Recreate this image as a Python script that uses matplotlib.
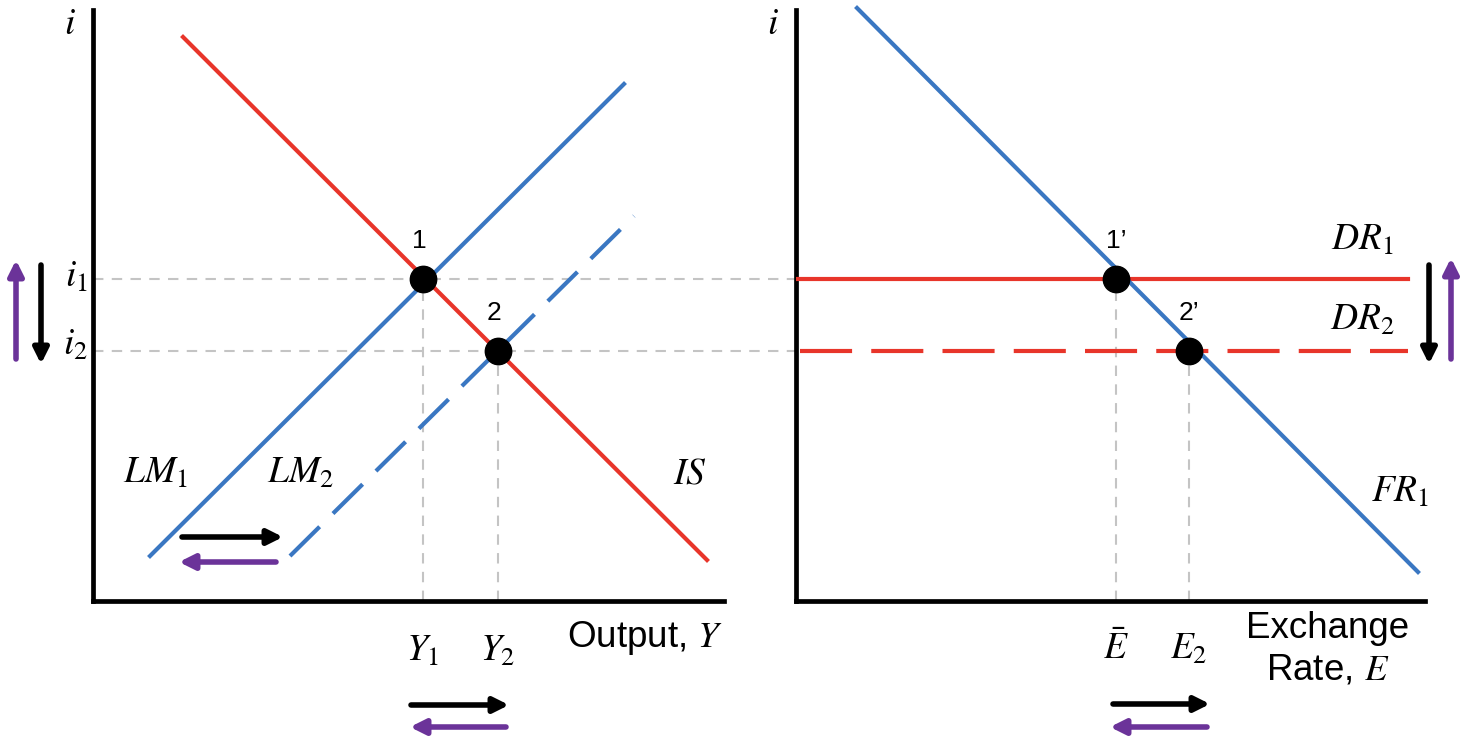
import matplotlib
matplotlib.use("Agg")
import matplotlib.pyplot as plt

plt.rcParams['mathtext.fontset'] = 'stix'
plt.rcParams['font.family'] = ['Liberation Sans', 'DejaVu Sans']

# ---------------- data (schematic units, origin at each panel's axes corner) ----
# Left panel: IS-LM
IS_x = [90, 614]
IS_y = [564, 41]
LM1_x = [57, 531]
LM1_y = [45, 517]
LM2_x = [197, 541]
LM2_y = [45, 385]
Y_eq = [330, 405]          # Y1, Y2
i_eq = [322, 250]          # i1, i2
Y_labels = [r'$Y_1$', r'$Y_2$']
i_labels = [r'$i_1$', r'$i_2$']
pt_labels_left = ['1', '2']

# Right panel: FX market
FR_x = [61, 622]
FR_y = [593, 29]
DR_x_end = 612
E_eq = [320, 393]          # E-bar, E2
E_labels = [r'$\bar{E}$', r'$E_2$']
pt_labels_right = ['1’', '2’']

RED = '#E8352A'
BLUE = '#3A77C2'
PURPLE = '#6B3399'
GRAY = '#C4C4C4'

W, H = 1478, 746
fig = plt.figure(figsize=(W / 100, H / 100), dpi=100)

def make_ax(x0, width):
    ax = fig.add_axes([x0 / W, (H - 601) / H, width / W, 591 / H])
    ax.set_xlim(0, width)
    ax.set_ylim(0, 591)
    for s in ['top', 'right']:
        ax.spines[s].set_visible(False)
    for s in ['left', 'bottom']:
        ax.spines[s].set_linewidth(3.4)
        ax.spines[s].set_color('black')
        ax.spines[s].set_capstyle('projecting')
    ax.set_xticks([])
    ax.set_yticks([])
    ax.patch.set_alpha(0)
    return ax

axL = make_ax(93, 631)
axR = make_ax(796, 629)

lw = 3.0
gdash = dict(color=GRAY, lw=1.5, ls=(0, (5, 4)), zorder=1, clip_on=False)
MFS = 27     # math label size
TFS = 26.5   # plain text label size
PFS = 19     # point label size

# ---- left panel ----
for iv in i_eq:
    axL.plot([0, 703], [iv, iv], **gdash)
for yv, iv in zip(Y_eq, i_eq):
    axL.plot([yv, yv], [0, iv], **gdash)

axL.plot(IS_x, IS_y, color=RED, lw=lw, zorder=3, clip_on=False)
axL.plot(LM1_x, LM1_y, color=BLUE, lw=lw, zorder=3, clip_on=False)
axL.plot(LM2_x, LM2_y, color=BLUE, lw=lw, ls=(0, (10, 4.5)), zorder=3, clip_on=False)
axL.plot(Y_eq, i_eq, 'o', color='black', ms=19, zorder=5, clip_on=False)

for (x, y), t in zip(zip(Y_eq, i_eq), pt_labels_left):
    axL.text(x - 4, y + 26, t, fontsize=PFS, ha='center', va='bottom')

axL.text(-23, 591 - 14, r'$i$', fontsize=MFS, ha='center', va='center')
for iv, lab, dy in zip(i_eq, i_labels, [2, 6]):
    axL.text(-5, iv + dy, lab, fontsize=MFS, ha='right', va='center')
for yv, lab in zip(Y_eq, Y_labels):
    axL.text(yv, -50, lab, fontsize=MFS, ha='center', va='center')
axL.text(630, -37, r'Output, $Y$', fontsize=TFS, ha='right', va='center')

axL.text(62, 128, r'$LM_1$', fontsize=MFS, ha='center', va='center')
axL.text(207, 128, r'$LM_2$', fontsize=MFS, ha='center', va='center')
axL.text(597, 128, r'$IS$', fontsize=MFS, ha='center', va='center')

def arrow(ax, x0, y0, x1, y1, color):
    ax.annotate('', xy=(x1, y1), xytext=(x0, y0), xycoords='data',
                annotation_clip=False,
                arrowprops=dict(arrowstyle='-|>,head_length=0.9,head_width=0.45',
                                color=color, lw=4, shrinkA=0, shrinkB=0))

# LM shift arrows
arrow(axL, 89, 64, 190, 64, 'black')
arrow(axL, 183, 39, 86, 39, PURPLE)
# i arrows
arrow(axL, -52, 336, -52, 237, 'black')
arrow(axL, -77, 242, -77, 341, PURPLE)
# Y arrows
arrow(axL, 318, -104, 416, -104, 'black')
arrow(axL, 413, -126, 317, -126, PURPLE)

# ---- right panel ----
for ev, iv in zip(E_eq, i_eq):
    axR.plot([ev, ev], [0, iv], **gdash)
axR.plot([0, DR_x_end], [i_eq[0], i_eq[0]], color=RED, lw=lw, zorder=3)
axR.plot([4, DR_x_end], [i_eq[1], i_eq[1]], color=RED, lw=lw,
         ls=(0, (12.5, 4.6)), zorder=3)
axR.plot(FR_x, FR_y, color=BLUE, lw=lw, zorder=3, clip_on=False)
axR.plot(E_eq, i_eq, 'o', color='black', ms=19, zorder=5, clip_on=False)

for (x, y), t in zip(zip(E_eq, i_eq), pt_labels_right):
    axR.text(x, y + 26, t, fontsize=PFS, ha='center', va='bottom')

axR.text(-23, 591 - 14, r'$i$', fontsize=MFS, ha='center', va='center')
for ev, lab in zip(E_eq, E_labels):
    axR.text(ev, -48, lab, fontsize=MFS, ha='center', va='center')
axR.text(532, -27, 'Exchange', fontsize=TFS, ha='center', va='center')
axR.text(532, -69, r'Rate, $E$', fontsize=TFS, ha='center', va='center')

axR.text(566, 361, r'$DR_1$', fontsize=MFS, ha='center', va='center')
axR.text(566, 281, r'$DR_2$', fontsize=MFS, ha='center', va='center')
axR.text(604, 109, r'$FR_1$', fontsize=MFS, ha='center', va='center')

arrow(axR, 633, 336, 633, 237, 'black')
arrow(axR, 655, 242, 655, 343, PURPLE)
arrow(axR, 317, -103, 414, -103, 'black')
arrow(axR, 411, -126, 314, -126, PURPLE)

fig.savefig('out.png', dpi=100)
